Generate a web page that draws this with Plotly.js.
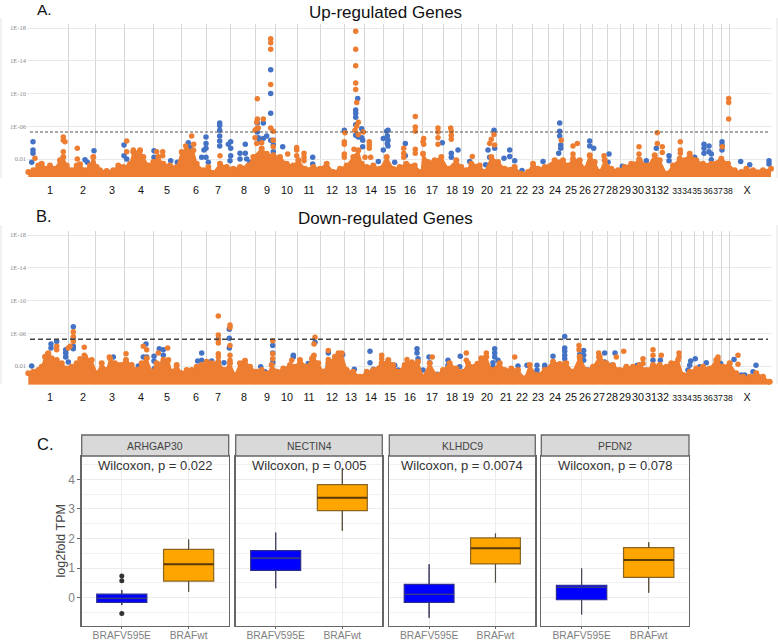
<!DOCTYPE html>
<html><head><meta charset="utf-8">
<script src="https://cdn.plot.ly/plotly-3.0.1.min.js"></script>
<style>html,body{margin:0;padding:0;background:#fff}</style></head>
<body><div id="chart" style="width:778px;height:641px"></div>
<script>
// genome position of chromosome boundaries and of chromosome labels
const chromBounds=[68.3,95.3,124.7,153,181.3,206.3,230.7,255.7,275.3,297,320.7,344,364,383,403.7,422.7,443.3,461.3,478.3,496,512.7,532.3,548.3,563.7,580.3,592.3,607.3,620.3,633.7,646.7,658.7,671.7,681.7,694.7,703,712,721.3,729.3];
const chromCentres=[50,83,112,141,167,196,218,244,267,287,309,332,351,371,390,410,432,452,468,487,506,522,538,555,571,585,599,612,625,638,651,663,677,687,697,708,718,728,747];
const chromNames=['1','2','3','4','5','6','7','8','9','10','11','12','13','14','15','16','17','18','19','20','21','22','23','24','25','26','27','28','29','30','31','32','33','34','35','36','37','38','X'];
const crampedChroms=['33','34','35','36','37','38'];
const pTicks=[2,6,10,14,18];
const pLabels=['0.01','1E-06','1E-10','1E-14','1E-18'];
const thresholdUp=5.3, thresholdDown=5.27;
const floorUp=-0.2, floorDown=-0.26;

// dense orange mass: [position, -log10 p]
const upMass=[[28.3,.41],[33.3,.61],[38.3,1.22],[41.7,1.43],[46.7,.82],[50,1.22],[55,.82],[60,1.84],[63.3,2.24],[66.7,1.22],[71.7,.61],[76.7,1.22],[80,1.35],[85,.61],[90,1.22],[93.3,2.24],[96.7,1.02],[100,.61],[106.7,.53],[113.3,.61],[118.3,1.22],[123.3,1.02],[130,1.43],[133.3,2.86],[140,3.06],[143.3,2.24],[148.3,1.22],[153.3,1.63],[158.3,2.24],[163.3,1.43],[170,1.22],[176.7,1.02],[181.7,2.86],[186.7,3.06],[193.3,3.06],[196.7,1.43],[203.3,.61],[208.3,1.02],[213.3,.29],[220,1.43],[226.7,1.02],[233.3,.82],[240,1.02],[248.3,1.22],[253.3,2.24],[261.7,3.27],[266.7,2.65],[273.3,2.45],[280,2.24],[286.7,1.43],[293.3,1.22],[298.3,1.84],[305,.82],[313.3,1.02],[320,.82],[326.7,1.43],[333.3,.41],[340,.82],[346.7,1.22],[353.3,2.24],[358.3,3.06],[361.7,1.43],[366.7,1.02],[373.3,1.22],[380,.82],[386.7,2.24],[393,.82],[399.7,1.02],[406.3,1.43],[414.7,1.22],[421.3,.41],[423,2.65],[428,1.63],[434.7,1.84],[441.3,2.24],[448,.82],[456.3,1.84],[461.3,1.02],[466.3,.61],[471.3,1.43],[479.7,1.22],[484.7,.41],[491.3,2.24],[498,1.63],[504.7,.82],[514.7,1.02],[521.3,.2],[528,.41],[533,1.43],[538,.82],[544.7,1.02],[554.7,1.84],[563,1.84],[568,1.22],[573,2.04],[579.7,1.84],[584.7,.82],[589.7,2.45],[594.7,1.63],[599.7,.41],[604.7,1.84],[611.3,.82],[618,.61],[624.7,1.02],[631.3,1.43],[639.7,1.84],[648,1.22],[654.7,2.45],[659.7,1.84],[666.3,.2],[673,1.22],[679.7,2.04],[684.7,1.84],[689.7,2.65],[696.3,1.84],[703,1.43],[711.3,1.43],[721.3,2.04],[728,1.43],[734.7,.61],[741.3,.41],[746.3,.82],[753,.61],[763,.61],[771,.82]];
const upOrange=[[270.7,16.7],[270.7,16.2],[270.7,15.4],[270.7,11.1],[257.3,9.35],[257.3,6.9],[263.3,6.9],[256.7,6.5],[256.7,5.7],[258.3,5.8],[255,5.5],[255,4.6],[256.7,3.9],[261.7,4],[270.7,5.8],[273.3,5.4],[273.3,4.3],[273.3,3.5],[355.7,17.6],[355.7,15.4],[355.7,13.4],[355.7,11.3],[355.7,10.5],[356.7,8.9],[358.3,6.5],[356.7,6],[355,5.5],[358.3,5],[345,5.2],[344.3,4.1],[344.3,3.8],[344.3,2.6],[344.3,2.2],[354,3.2],[363.3,5.3],[369.3,4.1],[369.3,3.7],[369.3,3.3],[370.7,2.2],[365,2.2],[63.3,4.7],[63.3,4.3],[65,4.1],[63.3,2.9],[77.3,3.3],[77.3,2],[35,2.1],[126.7,4.2],[126.7,2.9],[133.3,3.1],[140,3],[156.7,2.9],[162.7,2.9],[162.7,2.4],[191.7,4.8],[193.7,3.8],[185.7,3.6],[220,2.4],[287.7,2.6],[296.7,3.4],[296.7,3.1],[296.7,2.4],[304,2.7],[304,2.2],[304,1.8],[415.3,7.2],[415.3,5.9],[415.3,5.4],[415.3,3.2],[415.3,2.7],[423.7,4.5],[423,4.1],[423.7,3.8],[403.7,3.3],[403.7,2.7],[403.7,2.2],[438,5.8],[438,5.3],[438,4.6],[438,3.8],[450.7,5.8],[451.3,5.4],[451.3,4.9],[451.3,4.4],[472.3,2.3],[494,5],[491.3,4.4],[489.7,3.9],[494.7,3.7],[573,3.6],[577.3,3.9],[573,2.6],[561.3,4.3],[589.7,2.4],[639,3.5],[639,2.6],[639,2],[657.3,5.2],[657.3,3.9],[662.3,3.5],[662.3,2.8],[680.3,4.1],[680.3,3.1],[680.3,2.7],[722.3,3.5],[728.7,9.4],[728.7,8.9],[728.7,6.9],[604,2.4]];
const upBlue=[[270.7,12.9],[270.7,10],[270.7,7.6],[266.7,4.8],[263.3,4.5],[257.3,6.4],[263.3,6.4],[257.3,5.3],[258.3,4.6],[259.3,4.1],[270.7,4.3],[273.3,4.3],[273.3,3.7],[273.3,2.9],[282.7,3.5],[357.7,9.4],[355.7,8],[355.7,7.6],[355.7,7.1],[355.7,6.2],[355.7,4.9],[358.3,4.7],[361.7,4.6],[362.7,4.3],[361.7,5.7],[362.7,3.5],[344.3,5.5],[33,4.1],[33,3.1],[33,2.7],[31.7,1.6],[94,3],[85,1.9],[87.3,1.6],[124,3.7],[124,2.4],[126.7,2],[154,3],[154,2.2],[170.7,1.8],[177.3,1.6],[188.3,4],[190,3.4],[206,4.7],[206,3.9],[206,3.3],[204,3.1],[206,2.2],[201.7,2.2],[208.3,1.6],[219.7,6.4],[219.7,6.1],[219.7,5.5],[219.7,4.8],[219.7,4.2],[219.7,3.6],[230.7,4.1],[228.3,3.8],[230.7,3.3],[230.7,2.4],[230,1.8],[240,2.7],[240,2],[245.3,3.8],[245.3,2.7],[246.7,2],[250,1.6],[312.7,2.2],[312.7,1.4],[386.7,5.4],[383.3,4.5],[387.3,4.8],[387.3,3.9],[383.3,3.1],[378.3,1.7],[388,5.5],[388,4.3],[388,3.6],[405.3,3.9],[405.3,2.4],[394.7,1.6],[442.3,4],[451.3,2.7],[451.3,2.2],[458,3.1],[469.7,1.7],[485.7,1.3],[494,5.5],[488,3.1],[489.7,2.2],[494.7,3.3],[509.7,3.1],[509.7,2.3],[504,2.1],[514.7,1.8],[522,.6],[543,1.7],[559.7,6.4],[559.7,5.4],[559.7,4.8],[560.7,3.7],[560.7,3.3],[558.7,2.7],[589.7,4.2],[589.7,3.6],[593.7,3.3],[609,2.6],[608,1.6],[622.3,1.1],[646.3,1.8],[656.3,3.3],[669,2.4],[669,1.8],[694.7,2.2],[704,3.8],[704,3.3],[704,2.7],[709,3.6],[709,2.9],[711.3,2.6],[711.3,1.9],[722,4.1],[722,3.7],[722,3.1],[740.7,1.7],[749.7,1.3],[769,1.8],[769,1.4]];

const downMass=[[28.3,1.1],[33.3,1.31],[38.3,1.51],[41.7,1.92],[45,3.14],[48.3,3.55],[51.7,2.94],[56.7,2.73],[61.7,2.33],[66.7,1.71],[71.7,1.92],[76.7,2.33],[81.7,2.73],[85,3.14],[91.7,2.73],[96.7,1.1],[101.7,2.33],[106.7,1.51],[110,2.94],[115,2.33],[120,2.12],[126,2.73],[131.7,2.12],[136.7,1.51],[141.7,2.33],[146.7,2.94],[151.7,1.31],[156.7,2.33],[163.3,2.53],[168.3,2.73],[171.7,1.31],[176.7,2.12],[181.7,1.1],[186.7,1.51],[191.7,1.51],[196.7,1.92],[201.7,2.12],[206.7,2.53],[211.7,2.33],[218.3,2.53],[224,1.51],[230,2.33],[235,.9],[240,2.33],[245,2.65],[250,1.92],[256.7,1.31],[261.7,1.51],[268.3,1.1],[271.7,2.12],[276.7,1.31],[283.3,1.71],[290,2.12],[295,1.92],[300,2.73],[306.7,1.92],[313.3,3.14],[318.3,2.33],[323.3,1.31],[328.3,2.33],[335,3.14],[341.7,3.55],[346.7,1.51],[353.3,1.31],[360,.69],[366.7,1.31],[373.3,1.51],[381.7,2.33],[388.3,2.73],[393,2.12],[398,1.31],[404.7,2.12],[411.3,2.33],[418,2.53],[423,.69],[429.7,2.33],[436.3,.9],[443,1.51],[449.7,2.33],[456.3,1.71],[463,1.31],[468,2.33],[474.7,1.92],[481.3,2.94],[486.3,3.14],[491.3,1.51],[499.7,2.33],[504.7,1.51],[511.3,1.71],[518,1.51],[524.7,.49],[529.7,2.12],[536.3,.9],[544.7,1.51],[553,2.53],[559.7,2.24],[566.3,2.33],[573,1.31],[579.7,3.14],[586.3,1.51],[593,1.92],[599.7,3.14],[606.3,2.33],[613,2.12],[619.7,1.51],[626.3,1.92],[633,1.92],[639.7,2.12],[646.3,1.51],[653,2.12],[659.7,2.12],[666.3,1.92],[671.3,2.33],[678,2.73],[683,.9],[689.7,1.31],[696.3,1.71],[703,1.92],[709.7,1.71],[716.3,2.73],[723,1.92],[729.7,2.33],[736.3,1.1],[743,.69],[749.7,.69],[756.3,1.1],[763,.69],[769.7,.08]];
const downOrange=[[218.3,8.1],[218.3,5.8],[218.3,5.2],[218.3,4.8],[218.3,3.5],[218.3,3.1],[230,7],[230,6.7],[230,4.5],[230,3.3],[230,2.7],[73.3,6.2],[73.3,5.6],[73.3,5],[70,4.4],[68.3,4.2],[84.3,4.3],[84.3,3.3],[80,2.9],[56.7,4.4],[56.7,4],[47.7,3.5],[109.3,3.1],[126,3.5],[143.3,4.4],[146.7,4],[158.3,3.6],[167.7,4.2],[163.3,2.8],[272.7,5.1],[272.7,3.5],[272.7,2.9],[315,5.5],[314,4.7],[314,3.3],[328.3,3.9],[328.3,2.8],[338.3,3.6],[381.7,3.3],[381.7,2.9],[381.7,2.4],[311.7,2.9],[291.7,2.7],[579,4.5],[579,4],[579.7,2.9],[407,2.8],[407,2.3],[412,2.5],[432.3,3.1],[466.3,3.6],[466.3,2.7],[477.3,2.3],[486.3,3.6],[483,2.9],[514.7,3.1],[598.7,3.6],[598.7,3.1],[616.3,3.1],[623.7,3.8],[643,2.9],[643,2.3],[653,4],[653,3.3],[661.3,3.3],[679,3.6],[679,3.1],[718,3.1],[718,2.7],[738,3.3],[738,2.2],[564.7,2.3]];
const downBlue=[[31.7,2],[51,4.7],[51,4.2],[56.7,5],[73.3,6.8],[73.3,5.4],[73.3,4.4],[73.3,4.1],[65.7,4],[65.7,3.6],[65.7,3.1],[68.3,2.5],[71.7,1.5],[113.3,3.1],[113.3,2.3],[146,4.7],[143.3,3.1],[146.7,3.1],[154,3.2],[154,2.6],[159.3,4.1],[163.3,4],[163.3,3.3],[166.7,2.3],[154.3,1.7],[138.3,2],[201.7,3.6],[201.7,2.7],[197.7,2.6],[211.7,2.6],[224,2.4],[218.3,5.3],[229.3,6.5],[229.3,5.4],[229.3,4.2],[260.7,1.9],[260.7,1.3],[265,1.3],[272.7,4.5],[272.7,3.6],[272.7,2.4],[293.3,3.3],[293.3,3.1],[315,4.9],[308.3,2.3],[328.3,3.6],[328.3,2.1],[335,3.1],[335,1.7],[342.7,3.4],[370,3.8],[370,2.4],[373.3,1.6],[381.7,1.6],[354.3,1.6],[564.7,5.6],[564.7,4.2],[564.7,3.8],[564.7,3.3],[564.7,2.9],[553,3.2],[579.7,3.4],[583.7,3.9],[583.7,3.3],[583.7,2.7],[588,1.5],[417,4.1],[417,3.6],[418,2.9],[394.7,2.1],[398,1.5],[429,3.1],[429.7,2.4],[423,1.5],[437,1],[448,2.7],[448,2.1],[460.3,3.2],[459.7,1.9],[494.7,4.1],[494.7,3.6],[494.7,3.1],[493,2.4],[493,1.9],[498,2.7],[518,2],[527,2.1],[537,2.1],[537,1.5],[536.3,1.1],[544.7,2.1],[544.7,1.7],[604.7,3.6],[604.7,2.5],[615,3.6],[611.3,2.1],[637.3,2.1],[653,2.7],[653,1.9],[660.3,2.7],[663,1.7],[671.3,2.2],[695.3,2.9],[690.7,2.6],[689.7,2.1],[688,1.5],[699.7,1.9],[706.3,2.4],[720.7,2.3],[734,2.8],[741.3,.9],[744.7,.9],[756,2.1],[753,1.3]];

// panel C: box statistics per gene, order [BRAFV595E, BRAFwt]
const genes=['ARHGAP30','NECTIN4','KLHDC9','PFDN2'];
const pValues=['Wilcoxon, p = 0.022','Wilcoxon, p = 0.005','Wilcoxon, p = 0.0074','Wilcoxon, p = 0.078'];
const groups=['BRAFV595E','BRAFwt'];
const q1s=[[-.16,.56],[.92,2.94],[-.16,1.14],[-.07,.69]];
const medians=[[-.02,1.13],[1.34,3.38],[.11,1.67],[.35,1.27]];
const q3s=[[.12,1.63],[1.59,3.82],[.45,2.02],[.42,1.69]];
const lowers=[[-.25,.2],[.32,2.26],[-.68,.51],[-.57,.17]];
const uppers=[[.26,1.97],[2.2,4.37],[1.13,2.17],[.99,1.87]];
const outliers=[.73,.57,-.53];
const groupFill=['#0000FF','#FFA500'];
const groupMedian=['#3c3c80','#5c3a08'];
const groupEdge=['#2c2c90','#8a6420'];

const W=778,H=641;
const dx=(a,b)=>[a/W,b/W], dy=(a,b)=>[1-b/H,1-a/H];
const ORANGE='#ED7D31', BLUE='#4472C4';
const traces=[];

function manhattan(xa,ya,mass,orange,blue,floor,thr,dashW,dashC,dash){
  const pts=(arr,c,s)=>({type:'scatter',mode:'markers',xaxis:xa,yaxis:ya,x:arr.map(p=>p[0]),y:arr.map(p=>p[1]),cliponaxis:false,marker:{color:c,size:s,line:{width:0}},showlegend:false,hoverinfo:'skip'});
  traces.push(pts(blue,BLUE,5.5));
  const mx=mass.map(p=>p[0]);
  traces.push({type:'scatter',mode:'lines',xaxis:xa,yaxis:ya,x:[mx[0],mx[mx.length-1]],y:[floor,floor],line:{color:ORANGE,width:1},showlegend:false,hoverinfo:'skip'});
  traces.push({type:'scatter',mode:'lines+markers',xaxis:xa,yaxis:ya,x:mx,y:mass.map(p=>p[1]),fill:'tonexty',fillcolor:ORANGE,line:{color:ORANGE,width:1.5},marker:{color:ORANGE,size:6},cliponaxis:false,showlegend:false,hoverinfo:'skip'});
  traces.push(pts(orange,ORANGE,5.5));
  traces.push({type:'scatter',mode:'lines',xaxis:xa,yaxis:ya,x:[30,768],y:[thr,thr],line:{color:dashC,width:dashW,dash:dash},showlegend:false,hoverinfo:'skip'});
}
manhattan('x','y',upMass,upOrange,upBlue,floorUp,thresholdUp,1.1,'#555','3px,2px');
manhattan('x2','y2',downMass,downOrange,downBlue,floorDown,thresholdDown,1.5,'#444','5px,3px');

const tickText=chromNames.map(n=>crampedChroms.includes(n)?`<span style="font-size:8.6px">${n}</span>`:n);
const axisX=(dom)=>({domain:dom,range:[27,772],tickmode:'array',tickvals:chromCentres,ticktext:tickText,tickangle:0,showgrid:false,zeroline:false,showline:false,ticks:'outside',ticklen:3,tickcolor:'rgba(0,0,0,0)',tickfont:{family:'Liberation Sans, Arial',size:10.8,color:'#111'},
  minor:{tickmode:'array',tickvals:chromBounds,showgrid:true,gridcolor:'#d6d6d6',gridwidth:1,ticks:''}});
const axisY=(dom,r,anc)=>({domain:dom,range:r,tickmode:'array',tickvals:pTicks,ticktext:pLabels,showgrid:true,gridcolor:'#e9e9e9',gridwidth:1,zeroline:false,showline:false,ticks:'',tickfont:{family:'Liberation Serif, serif',size:6.5,color:'#888'},anchor:anc});

const layout={width:W,height:H,margin:{l:0,r:0,t:0,b:0},paper_bgcolor:'#fff',plot_bgcolor:'#fff',showlegend:false,
  xaxis:Object.assign(axisX(dx(27,772)),{anchor:'y'}),
  yaxis:axisY(dy(24,177),[-0.2,18.5],'x'),
  xaxis2:Object.assign(axisX(dx(27,772)),{anchor:'y2'}),
  yaxis2:axisY(dy(231,384.5),[-0.26,18.5],'x2'),
  shapes:[],annotations:[]};

const paperLine=(x,y0,y1)=>({type:'line',xref:'paper',yref:'paper',x0:x/W,x1:x/W,y0:1-y0/H,y1:1-y1/H,line:{color:'#e4e4e4',width:1},layer:'below'});
layout.shapes.push(paperLine(1,18,178),paperLine(777,18,178),paperLine(1,225,384),paperLine(777,225,384));

const note=(t,x,y,size,color,extra)=>Object.assign({text:t,xref:'paper',yref:'paper',x:x/W,y:1-y/H,showarrow:false,xanchor:'center',yanchor:'middle',font:{family:'Liberation Sans, Arial',size:size,color:color}},extra||{});
layout.annotations.push(note('A.',44,10,15.5,'#111'),note('B.',44,216,16.5,'#111'),note('C.',45,444,16.5,'#111'));
layout.annotations.push(note('Up-regulated Genes',385,12,17,'#111'),note('Down-regulated Genes',385,218,17,'#111'));
layout.annotations.push(note('log2fold TPM',60,541.5,12.5,'#444',{textangle:-90}));

const facets=[[81.7,228.7],[235.7,382.3],[389.3,535.3],[541.3,689]];
genes.forEach((g,i)=>{
  const n=i+3, xk='xaxis'+n, yk='yaxis'+n, xa='x'+n, ya='y'+n;
  const [a,b]=facets[i];
  layout[xk]={domain:dx(a,b),anchor:ya,range:[0.4,2.6],tickmode:'array',tickvals:[1,2],ticktext:groups,tickangle:0,showgrid:true,gridcolor:'#ececec',zeroline:false,showline:true,mirror:true,linecolor:'#666',linewidth:1.3,ticks:'outside',ticklen:2,tickcolor:'#666',ticklabelstandoff:-3,tickfont:{family:'Liberation Sans, Arial',size:10.3,color:'#7f7f7f'}};
  layout[yk]={domain:dy(456,626),anchor:xa,range:[-0.956,4.787],tickmode:'linear',tick0:0,dtick:1,showgrid:true,gridcolor:'#ececec',zeroline:false,showline:true,mirror:true,linecolor:'#666',linewidth:1.3,ticks:i==0?'outside':'',ticklen:3,tickcolor:'#666',showticklabels:i==0,tickfont:{family:'Liberation Sans, Arial',size:12,color:'#7f7f7f'},
    minor:{dtick:0.5,showgrid:true,gridcolor:'#f1f1f1',gridwidth:1,ticks:''}};
  [0,1].forEach(k=>{
    const pos=k+1;
    traces.push({type:'box',xaxis:xa,yaxis:ya,x:[pos],q1:[q1s[i][k]],median:[medians[i][k]],q3:[q3s[i][k]],lowerfence:[lowers[i][k]],upperfence:[uppers[i][k]],width:0.75,whiskerwidth:0,fillcolor:groupFill[k],line:{color:groupEdge[k],width:1.2},boxpoints:false,showlegend:false,hoverinfo:'skip'});
    traces.push({type:'scatter',mode:'lines',xaxis:xa,yaxis:ya,x:[pos,pos,null,pos,pos],y:[q3s[i][k],uppers[i][k],null,q1s[i][k],lowers[i][k]],line:{color:'#4d4d4d',width:1},showlegend:false,hoverinfo:'skip'});
    traces.push({type:'scatter',mode:'lines',xaxis:xa,yaxis:ya,x:[pos-0.375,pos+0.375],y:[medians[i][k],medians[i][k]],line:{color:groupMedian[k],width:k==0?1.3:2},showlegend:false,hoverinfo:'skip'});
  });
  if(i==0) traces.push({type:'scatter',mode:'markers',xaxis:xa,yaxis:ya,x:outliers.map(()=>1),y:outliers,marker:{color:'#333',size:5},showlegend:false,hoverinfo:'skip'});
  layout.shapes.push({type:'rect',xref:'paper',yref:'paper',x0:a/W,x1:b/W,y0:1-456/H,y1:1-435/H,fillcolor:'#D9D9D9',line:{color:'#666',width:1.3}});
  layout.annotations.push(note(g,(a+b)/2,446.5,10.4,'#444'));
  layout.annotations.push(note(pValues[i],(a+b)/2,465.5,13,'#333'));
});
Plotly.newPlot('chart',traces,layout,{staticPlot:true,displayModeBar:false});
</script></body></html>
